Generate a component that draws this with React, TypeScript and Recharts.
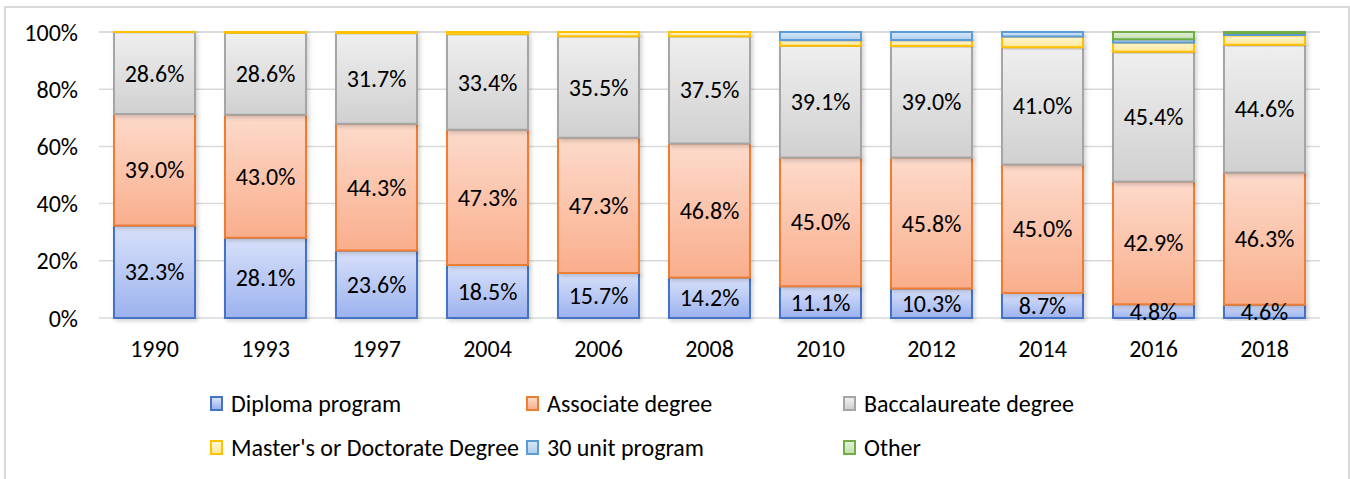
import { BarChart, Bar, XAxis, YAxis, CartesianGrid, LabelList } from 'recharts';

const years = ['1990', '1993', '1997', '2004', '2006', '2008', '2010', '2012', '2014', '2016', '2018'];

const diploma = [32.3, 28.1, 23.6, 18.5, 15.7, 14.2, 11.1, 10.3, 8.7, 4.8, 4.6];
const associate = [39.0, 43.0, 44.3, 47.3, 47.3, 46.8, 45.0, 45.8, 45.0, 42.9, 46.3];
const baccalaureate = [28.6, 28.6, 31.7, 33.4, 35.5, 37.5, 39.1, 39.0, 41.0, 45.4, 44.6];
const masters = [0.1, 0.3, 0.4, 0.8, 1.5, 1.5, 2.0, 2.1, 3.7, 3.2, 3.3];
const unit30 = [0, 0, 0, 0, 0, 0, 2.8, 2.8, 1.6, 1.2, 0.7];
const other = [0, 0, 0, 0, 0, 0, 0, 0, 0, 2.5, 0.5];

const yTicks = [0, 20, 40, 60, 80, 100];

// key, legend name, border colour, gradient top, gradient bottom
const series = [
  { key: 'diploma', name: 'Diploma program', stroke: '#4472C4', top: '#d8e1fb', bottom: '#9cb2ee', label: true },
  { key: 'associate', name: 'Associate degree', stroke: '#ED7D31', top: '#fddacb', bottom: '#f9ae8c', label: true },
  { key: 'baccalaureate', name: 'Baccalaureate degree', stroke: '#A5A5A5', top: '#efefef', bottom: '#d0d0d0', label: true },
  { key: 'masters', name: "Master's or Doctorate Degree", stroke: '#FFC000', top: '#fff6d2', bottom: '#ffe79a', label: false },
  { key: 'unit30', name: '30 unit program', stroke: '#5B9BD5', top: '#d6e7f8', bottom: '#b0cfee', label: false },
  { key: 'other', name: 'Other', stroke: '#70AD47', top: '#e3f1d8', bottom: '#c2e0ad', label: false },
];

const data = years.map((year, i) => ({
  year,
  diploma: diploma[i],
  associate: associate[i],
  baccalaureate: baccalaureate[i],
  masters: masters[i],
  unit30: unit30[i],
  other: other[i],
}));

const FONT = "Carlito, 'Noto Sans', sans-serif";

const legendCols = [210, 526, 843];
const legendRows = [403, 447];

export default function App() {
  return (
    <div style={{ position: 'absolute', left: 0, top: 0, width: 1350, height: 479, background: '#fff', overflow: 'hidden', fontFamily: FONT }}>
      <div
        style={{
          position: 'absolute',
          left: 4,
          top: 6,
          width: 1342,
          height: 490,
          borderLeft: '2px solid #d9d9d9',
          borderRight: '2px solid #d9d9d9',
          borderTop: '2px solid #d9d9d9',
        }}
      />
      <BarChart
        width={1350}
        height={479}
        data={data}
        margin={{ top: 32, right: 30, left: 0, bottom: 121 }}
        barCategoryGap="13.5%"
        style={{ position: 'absolute', left: 0, top: 0 }}
      >
        <defs>
          {series.map((s) => (
            <linearGradient key={s.key} id={`grad-${s.key}`} x1="0" y1="0" x2="0" y2="1">
              <stop offset="0%" stopColor={s.top} />
              <stop offset="100%" stopColor={s.bottom} />
            </linearGradient>
          ))}
          <filter id="shadow" x="-10%" y="-10%" width="130%" height="130%">
            <feDropShadow dx="2" dy="2" stdDeviation="2" floodColor="#000" floodOpacity="0.18" />
          </filter>
        </defs>
        <CartesianGrid vertical={false} stroke="#d9d9d9" strokeWidth={1.5} />
        <XAxis
          dataKey="year"
          axisLine={false}
          tickLine={false}
          tickMargin={16}
          height={40}
          tick={{ fill: '#000', fontSize: 24, fontFamily: FONT }}
        />
        <YAxis
          domain={[0, 100]}
          ticks={yTicks}
          width={99}
          axisLine={false}
          tickLine={false}
          tickMargin={15}
          tickFormatter={(v: number) => `${v}%`}
          tick={{ fill: '#000', fontSize: 24, fontFamily: FONT }}
        />
        {series.map((s) => (
          <Bar
            key={s.key}
            dataKey={s.key}
            name={s.name}
            stackId="a"
            fill={`url(#grad-${s.key})`}
            stroke={s.stroke}
            strokeWidth={2}
            filter="url(#shadow)"
            isAnimationActive={false}
          >
            {s.label && (
              <LabelList
                dataKey={s.key}
                position="center"
                formatter={(v: number) => `${v.toFixed(1)}%`}
                style={{ fill: '#000', fontSize: 24, fontFamily: FONT }}
              />
            )}
          </Bar>
        ))}
      </BarChart>
      {series.map((s, i) => (
        <div
          key={s.key}
          style={{
            position: 'absolute',
            left: legendCols[i % 3],
            top: legendRows[Math.floor(i / 3)] - 15,
            height: 30,
            display: 'flex',
            alignItems: 'center',
            fontSize: 24,
            color: '#000',
            whiteSpace: 'nowrap',
          }}
        >
          <span
            style={{
              display: 'inline-block',
              width: 9,
              height: 11,
              border: `2px solid ${s.stroke}`,
              background: `linear-gradient(${s.top}, ${s.bottom})`,
              marginRight: 8,
            }}
          />
          {s.name}
        </div>
      ))}
    </div>
  );
}
